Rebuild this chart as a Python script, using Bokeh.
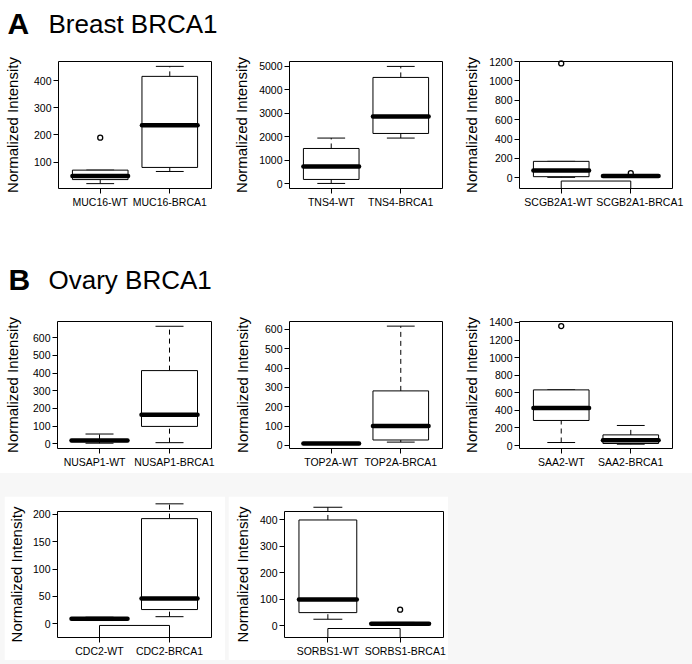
from bokeh.plotting import figure
from bokeh.models import (Range1d, FixedTicker, SingleIntervalTicker, Label,
                          Spacer, ColumnDataSource)
from bokeh.layouts import column, row
from bokeh.embed import file_html
from bokeh.resources import INLINE

# ---------------- data ----------------
genes = ["MUC16", "TNS4", "SCGB2A1", "NUSAP1", "TOP2A", "SAA2", "CDC2", "SORBS1"]
groups = ["WT", "BRCA1"]

wt_lower = [20, 15, 5, 3, 5, 34, 6, 24]
wt_q1 = [35, 185, 12, 12, 8, 285, 8, 49]
wt_median = [48, 736, 75, 18, 10, 427, 9, 99]
wt_q3 = [70, 1502, 170, 24, 12, 633, 10, 399]
wt_upper = [70, 1944, 170, 55, 15, 633, 12, 447]

brca1_lower = [65, 1944, 5, 6, 17, 15, 13, 2]
brca1_q1 = [80, 2140, 12, 98, 28, 23, 26, 5]
brca1_median = [236, 2864, 20, 164, 100, 60, 46, 7]
brca1_q3 = [417, 4523, 24, 414, 282, 121, 192, 9]
brca1_upper = [454, 4991, 30, 665, 617, 228, 219, 12]

outlier_gene = ["MUC16", "SCGB2A1", "SCGB2A1", "SAA2", "SORBS1"]
outlier_group = ["WT", "WT", "BRCA1", "WT", "BRCA1"]
outlier_value = [190, 1180, 48, 1359, 60]

bracket_gene = ["SCGB2A1", "CDC2", "SORBS1"]
bracket_value = [-33, -3, -11]

# axis settings per panel
y_start = [2, -200, -110, -27, -16, -34, -25, -45]
y_end = [472, 5200, 1200, 692, 641, 1411, 205, 431]
y_step = [100, 1000, 200, 100, 100, 200, 50, 100]

section_letters = ["A", "B"]
section_titles = ["Breast BRCA1", "Ovary BRCA1"]

FONT = "Liberation Sans"
BOX_HALF = 0.4
CAP_HALF = 0.2


def heading(letter, title, width, height, base, x_letter, x_title):
    p = figure(width=width, height=height, x_range=Range1d(0, width),
               y_range=Range1d(0, height), output_backend="svg", title=None,
               toolbar_location=None, x_axis_location=None,
               y_axis_location=None, min_border=0)
    p.outline_line_color = None
    p.grid.visible = False
    p.add_layout(Label(x=x_letter, y=base, text=letter, text_font=FONT,
                       text_font_size="30px", text_font_style="bold",
                       text_baseline="alphabetic", text_color="black"))
    p.add_layout(Label(x=x_title, y=base, text=title, text_font=FONT,
                       text_font_size="26px", text_baseline="alphabetic",
                       text_color="black"))
    return p


def panel(i, width, height, left, right, top, bottom, label_standoff,
          label_shift=(0.0, 0.0)):
    g = genes[i]
    p = figure(width=width, height=height, x_range=Range1d(0.4, 2.6),
               y_range=Range1d(y_start[i], y_end[i]), output_backend="svg",
               title=None, toolbar_location=None, min_border_left=left,
               min_border_right=right, min_border_top=top,
               min_border_bottom=bottom, border_fill_color="white",
               background_fill_color="white")
    xs = [1, 2]
    src = ColumnDataSource(dict(
        x=xs,
        box_l=[x - BOX_HALF for x in xs],
        box_r=[x + BOX_HALF for x in xs],
        cap_l=[x - CAP_HALF for x in xs],
        cap_r=[x + CAP_HALF for x in xs],
        lo=[wt_lower[i], brca1_lower[i]],
        q1=[wt_q1[i], brca1_q1[i]],
        med=[wt_median[i], brca1_median[i]],
        q3=[wt_q3[i], brca1_q3[i]],
        hi=[wt_upper[i], brca1_upper[i]],
    ))
    lvl = "overlay"
    p.segment(x0="x", x1="x", y0="q3", y1="hi", source=src, line_color="black",
              line_width=1, line_dash="5 4", level=lvl)
    p.segment(x0="x", x1="x", y0="lo", y1="q1", source=src, line_color="black",
              line_width=1, line_dash="5 4", level=lvl)
    p.segment(x0="cap_l", x1="cap_r", y0="hi", y1="hi", source=src,
              line_color="black", line_width=1, level=lvl)
    p.segment(x0="cap_l", x1="cap_r", y0="lo", y1="lo", source=src,
              line_color="black", line_width=1, level=lvl)
    p.quad(left="box_l", right="box_r", bottom="q1", top="q3", source=src,
           fill_color="white", line_color="black", line_width=1, level=lvl)
    p.segment(x0="box_l", x1="box_r", y0="med", y1="med", source=src,
              line_color="black", line_width=4.5, line_cap="round", level=lvl)

    ox = [1 + groups.index(grp) for gg, grp in zip(outlier_gene, outlier_group) if gg == g]
    oy = [v for gg, v in zip(outlier_gene, outlier_value) if gg == g]
    if ox:
        p.scatter(x=ox, y=oy, marker="circle", size=5, fill_color=None,
                  line_color="black", line_width=1.3, level=lvl)

    if g in bracket_gene:
        b = bracket_value[bracket_gene.index(g)]
        p.segment(x0=[1], x1=[2], y0=[b], y1=[b], line_color="black",
                  line_width=1, level=lvl)
        p.segment(x0=xs, x1=xs, y0=[b, b], y1=[y_start[i]] * 2,
                  line_color="black", line_width=1, level=lvl)

    p.grid.visible = False
    p.outline_line_color = "black"
    p.outline_line_width = 1

    label_x = [x + s for x, s in zip(xs, label_shift)]
    p.xaxis.ticker = FixedTicker(ticks=label_x, minor_ticks=xs)
    p.xaxis.major_label_overrides = {lx: f"{g}-{grp}" for lx, grp in zip(label_x, groups)}
    p.xaxis.major_tick_line_color = None
    p.xaxis.major_tick_out = 5
    p.xaxis.minor_tick_in = 0
    p.xaxis.minor_tick_out = 5
    p.xaxis.minor_tick_line_color = "black"

    p.yaxis.ticker = SingleIntervalTicker(interval=y_step[i], num_minor_ticks=0)
    p.yaxis.major_tick_in = 0
    p.yaxis.major_tick_out = 5
    p.yaxis.major_tick_line_color = "black"
    p.yaxis.minor_tick_line_color = None
    p.yaxis.axis_label = "Normalized Intensity"
    p.yaxis.axis_label_text_font = FONT
    p.yaxis.axis_label_text_font_size = "15px"
    p.yaxis.axis_label_text_font_style = "normal"
    p.yaxis.axis_label_text_color = "black"
    p.yaxis.axis_label_standoff = label_standoff

    p.axis.axis_line_color = None
    p.axis.major_label_text_font = FONT
    p.axis.major_label_text_font_size = "10.5px"
    p.axis.major_label_text_color = "black"
    p.axis.major_label_standoff = 2
    return p


head_a = heading(section_letters[0], section_titles[0], 692, 45, 22, 7, 48)
row_a = row(
    panel(0, 230, 170, 52, 19, 16, 27, 10),
    panel(1, 230, 170, 53, 18, 16, 27, 6),
    panel(2, 232, 170, 53, 20, 16, 27, 6, label_shift=(-0.04, 0.13)),
    spacing=0)

head_b = heading(section_letters[1], section_titles[1], 692, 85, 21, 8, 48)
row_b = row(
    panel(3, 230, 173, 52, 19, 21, 25, 9, label_shift=(-0.07, 0.07)),
    panel(4, 230, 173, 53, 18, 21, 25, 11),
    panel(5, 232, 173, 53, 20, 21, 25, 6),
    spacing=0)

row_c = column(
    Spacer(width=692, height=23),
    row(Spacer(width=4, height=164),
        panel(6, 221, 164, 48, 14, 15, 23, 5),
        Spacer(width=3, height=164),
        panel(7, 220, 164, 56, 5, 14, 23, 6, label_shift=(0.0, 0.07)),
        Spacer(width=244, height=164),
        spacing=0),
    Spacer(width=692, height=4),
    spacing=0,
    styles={"background-color": "#f7f7f7"})

layout = column(head_a, row_a, head_b, row_b, row_c, spacing=0)

open("out.html", "w").write(file_html(layout, INLINE))
